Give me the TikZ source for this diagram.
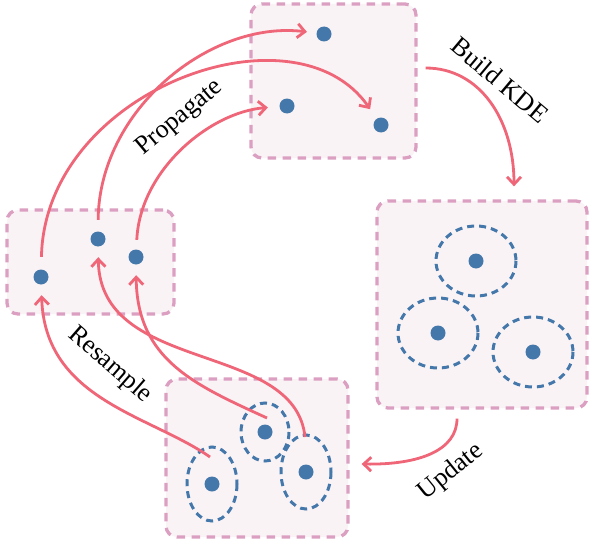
\documentclass[tikz,border=0pt]{standalone}
\usepackage{fontspec}
\setmainfont{Liberation Serif}
\usetikzlibrary{arrows.meta,calc}
\definecolor{cred}{RGB}{238,102,119}
\definecolor{cblue}{RGB}{68,119,170}
\definecolor{cboxd}{RGB}{219,160,193}
\definecolor{cboxf}{RGB}{250,243,246}
\begin{document}
\begin{tikzpicture}[x=1pt,y=-1pt,
  panel/.style={draw=cboxd, fill=cboxf, line width=3.3pt, dash pattern=on 8.5pt off 6.5pt, rounded corners=11pt, inner sep=0pt},
  dot/.style={circle, fill=cblue, inner sep=0pt, minimum size=15pt},
  kern/.style={draw=cblue, line width=3pt, dash pattern=on 7pt off 5pt},
  arr/.style={draw=cred, line width=2.8pt, -{Straight Barb[length=7.5pt,width=14pt]}},
  lbl/.style={font=\fontsize{26}{28}\selectfont, inner sep=0pt}
]
\useasboundingbox (0,0) rectangle (589,543);

% panels
\node[panel, minimum width=165pt, minimum height=154pt] (tbox) at (333.5,81) {};
\node[panel, minimum width=210pt, minimum height=207pt] (rbox) at (482,304.5) {};
\node[panel, minimum width=167pt, minimum height=104pt] (lbox) at (90.5,262) {};
\node[panel, minimum width=182pt, minimum height=158pt] (bbox) at (257,458) {};

% dots
\node[dot] (t1) at (324,34) {};
\node[dot] (t2) at (287,106) {};
\node[dot] (t3) at (381,125) {};
\node[dot] (l1) at (41,277) {};
\node[dot] (l2) at (98,239) {};
\node[dot] (l3) at (136,257) {};
\node[dot] (r1) at (476,261) {};
\node[dot] (r2) at (438,333) {};
\node[dot] (r3) at (533,352) {};
\node[dot] (b1) at (265,432) {};
\node[dot] (b2) at (212,484) {};
\node[dot] (b3) at (306,472) {};

% kernels
\draw[kern] (r1) ellipse [x radius=40, y radius=35];
\draw[kern] (r2) ellipse [x radius=40, y radius=35];
\draw[kern] (r3) ellipse [x radius=40, y radius=35];
\draw[kern] (b1) ellipse [x radius=24, y radius=29];
\draw[kern] (b2) ellipse [x radius=25, y radius=37];
\draw[kern] (b3) ellipse [x radius=25, y radius=37];

% propagate
\draw[arr, shorten <=12.5pt, shorten >=11.5pt] (l1) .. controls (45,90) and (295,0) .. (t3);
\draw[arr, shorten <=11.5pt, shorten >=9.5pt] (l2) .. controls (99,110) and (210,20) .. (t1);
\draw[arr, shorten <=9.5pt, shorten >=11.5pt] (l3) .. controls (140,170) and (210,112) .. (t2);

% build KDE
\draw[arr] ([xshift=8pt,yshift=13pt]tbox.east) .. controls (480,68) and (514,120) .. ([xshift=32pt,yshift=13pt]rbox.north);

% update
\draw[arr] ([xshift=-25pt,yshift=-9pt]rbox.south) .. controls (457,450) and (420,465) .. ([xshift=12pt,yshift=-6pt]bbox.east);

% resample
\coordinate (sA) at (210,457);
\coordinate (sB) at (305,437);
\coordinate (sC) at (267,418);
\draw[arr, shorten >=10.5pt] (sA) .. controls (150,415) and (45,400) .. (l1);
\draw[arr, shorten >=10.5pt] (sB) .. controls (295,340) and (100,375) .. (l2);
\draw[arr, shorten >=10.5pt] (sC) .. controls (195,385) and (137,360) .. (l3);

% labels
\node[lbl, rotate=40] (lprop) at (180,118) {Propagate};
\node[lbl, rotate=-40] (lkde) at (500,80) {Build KDE};
\node[lbl, rotate=39] (lupd) at (451,472) {Update};
\node[lbl, rotate=-41] (lres) at (110,365) {Resample};
\end{tikzpicture}
\end{document}
